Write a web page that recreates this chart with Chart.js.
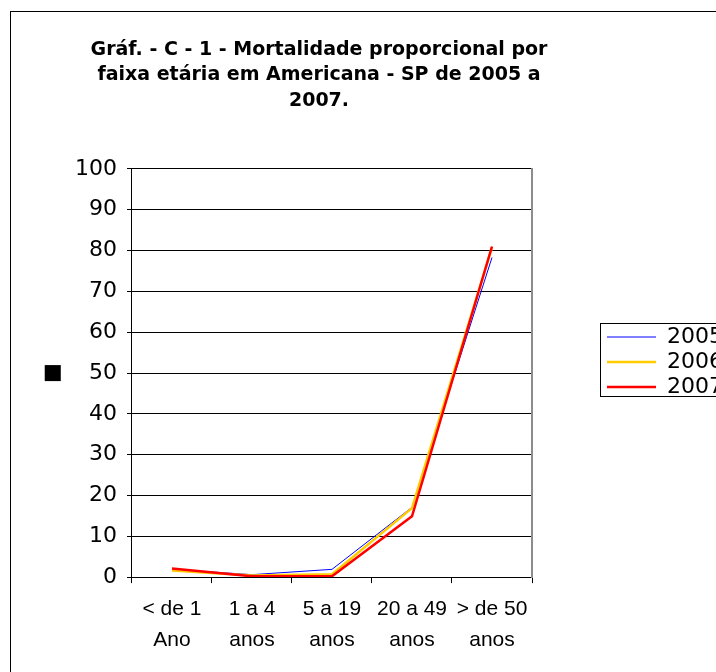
<!DOCTYPE html>
<html>
<head>
<meta charset="utf-8">
<script src="https://cdn.jsdelivr.net/npm/chart.js@4/dist/chart.umd.min.js"></script>
<style>
    body { margin: 0; background: #fff; overflow: hidden; }
    #ramka { position: absolute; left: 10px; top: 11px; width: 760px; height: 700px; border: 1px solid #000; }
    #wykres { position: absolute; left: 0; top: 0; }
</style>
</head>
<body>
<div id="ramka"></div>
<canvas id="wykres" width="716" height="672"></canvas>
<script>
// Dane wykresu
const kategorie = [['< de 1', 'Ano'], ['1 a 4', 'anos'], ['5 a 19', 'anos'], ['20 a 49', 'anos'], ['> de 50', 'anos']];
const lata = ['2005', '2006', '2007'];
const dane2005 = [1.9, 0.6, 1.9, 17.1, 78.3];
const dane2006 = [1.6, 0.4, 0.7, 16.9, 80.8];
const dane2007 = [2.1, 0.2, 0.2, 14.9, 81.0];
const tytul = ['Gráf. - C - 1 - Mortalidade proporcional por', 'faixa etária em Americana - SP de 2005 a', '2007.'];

Chart.defaults.color = '#000';
Chart.defaults.font.family = '"DejaVu Sans", Verdana, sans-serif';

// Plugin: przesuwa legendę w miejsce z oryginału i rysuje jej ramkę
const ramkaLegendy = {
    id: 'ramkaLegendy',
    afterLayout(chart) {
        const lg = chart.legend;
        lg.left = 604;
        lg.top = 323;
        lg.width = 200;
        lg.height = 120;
        lg.right = lg.left + lg.width;
        lg.bottom = lg.top + lg.height;
    },
    afterDraw(chart) {
        const ctx = chart.ctx;
        const lg = chart.legend;
        ctx.save();
        ctx.strokeStyle = '#000';
        ctx.lineWidth = 1;
        ctx.strokeRect(lg.left - 3.5, lg.top + 0.5, lg.width, 73);
        ctx.restore();
    }
};

function renderWykres() {
    const ctx = document.getElementById('wykres').getContext('2d');
    new Chart(ctx, {
        type: 'line',
        data: {
            labels: kategorie,
            datasets: [
                { label: lata[0], data: dane2005, borderColor: '#0000FF', borderWidth: 1, order: 2 },
                { label: lata[1], data: dane2006, borderColor: '#FFCC00', borderWidth: 2.5, order: 1 },
                { label: lata[2], data: dane2007, borderColor: '#FF0000', borderWidth: 2.5, order: 0 }
            ]
        },
        options: {
            responsive: false,
            animation: false,
            elements: {
                line: { tension: 0, fill: false },
                point: { radius: 0, hoverRadius: 0 }
            },
            layout: { padding: { left: 10, right: 88, top: 0, bottom: 6 } },
            scales: {
                x: {
                    offset: true,
                    grid: { offset: true, drawOnChartArea: false, color: '#000', tickLength: 6 },
                    border: { color: '#000', width: 1 },
                    ticks: {
                        padding: 11,
                        maxRotation: 0,
                        autoSkip: false,
                        font: { family: '"Liberation Sans", Arial, sans-serif', size: 21, lineHeight: 1.45 }
                    }
                },
                y: {
                    min: 0,
                    max: 100,
                    ticks: { stepSize: 10, padding: 10, font: { size: 22 } },
                    grid: { color: '#000', tickLength: 5 },
                    border: { color: '#000', width: 1 },
                    title: {
                        display: true,
                        text: '■',
                        font: { size: 21, lineHeight: 1 },
                        padding: { top: 32, bottom: 2 }
                    }
                },
                y2: {
                    position: 'right',
                    grid: { drawOnChartArea: false, drawTicks: false },
                    ticks: { display: false },
                    border: { color: '#8c8c8c', width: 2 },
                    afterFit: (scale) => { scale.width = 96; }
                }
            },
            plugins: {
                title: {
                    display: true,
                    text: tytul,
                    font: { size: 19, weight: 'bold', lineHeight: 1.35 },
                    padding: { top: 37, bottom: 55 }
                },
                legend: {
                    position: 'chartArea',
                    align: 'start',
                    labels: {
                        usePointStyle: true,
                        pointStyle: 'line',
                        pointStyleWidth: 49,
                        padding: 3,
                        font: { size: 22 },
                        sort: (a, b) => a.datasetIndex - b.datasetIndex
                    }
                },
                tooltip: { enabled: false }
            }
        },
        plugins: [ramkaLegendy]
    });
}

renderWykres();
</script>
</body>
</html>
